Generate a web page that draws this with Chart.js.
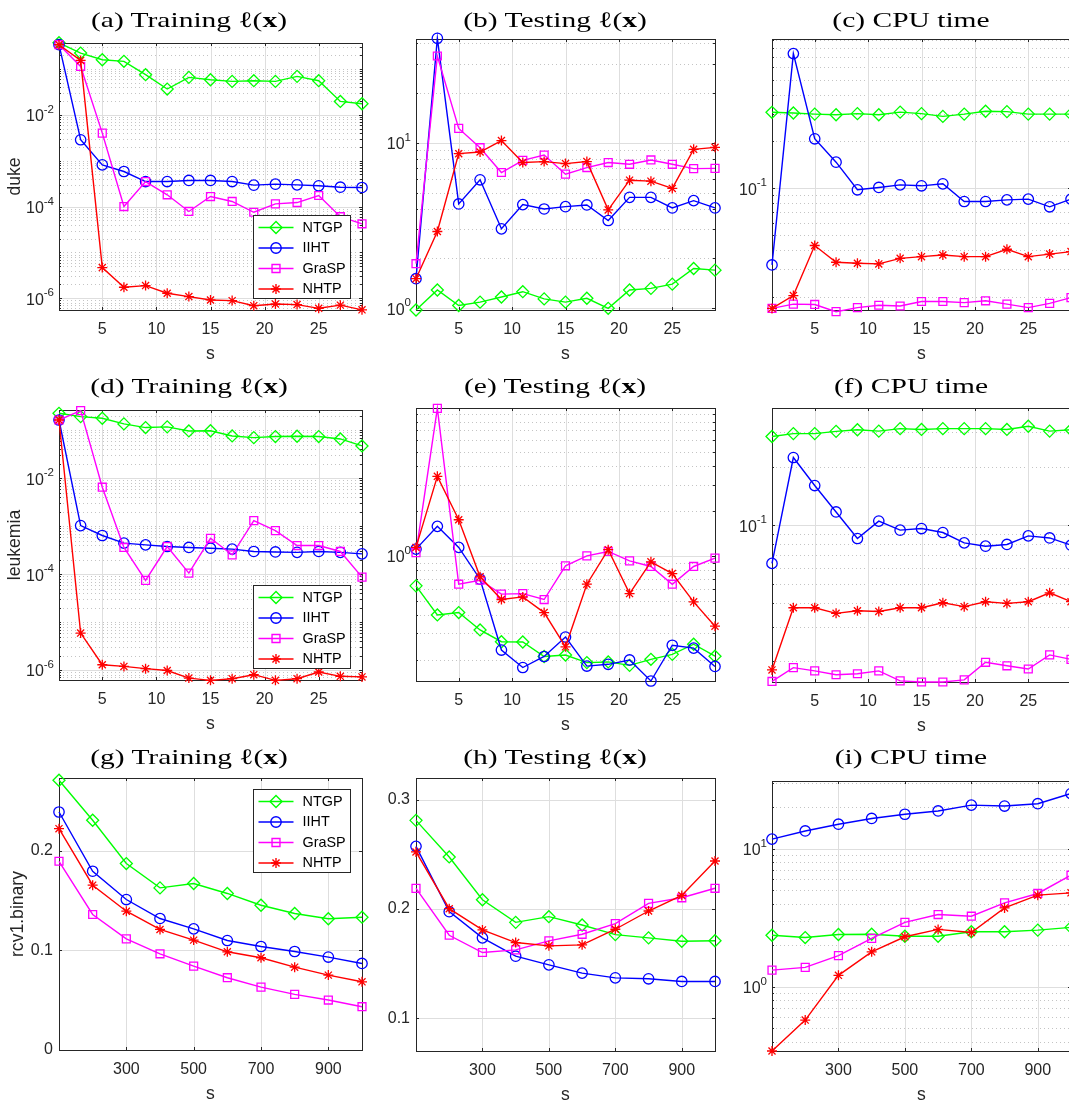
<!DOCTYPE html>
<html><head><meta charset="utf-8">
<script src="https://cdn.jsdelivr.net/npm/chart.js@4.4.1/dist/chart.umd.min.js"></script>
<style>
html,body{margin:0;padding:0;background:#fff;overflow:hidden;width:1069px;height:1103px;}
#wrap{position:relative;width:1069px;height:1103px;overflow:hidden;background:#fff;}
#wrap canvas{position:absolute;}
.ttl{position:absolute;font-family:"Liberation Serif","Times New Roman",serif;font-size:22px;color:#000;white-space:nowrap;line-height:26px;transform:translate(-50%,-50%);}
</style></head><body><div id="wrap"></div>
<script>
// ---------- data ----------
const S_SMALL = [1,3,5,7,9,11,13,15,17,19,21,23,25,27,29];
const S_LARGE = [100,200,300,400,500,600,700,800,900,1000];
const X_TICKS_SMALL = [5,10,15,20,25];
const X_TICKS_LARGE = [300,500,700,900];
const METHODS = ['NTGP','IIHT','GraSP','NHTP'];

// (a) duke, training loss
const dukeTrainNTGP  = [0.37,0.221,0.158,0.146,0.0747,0.0363,0.0653,0.058,0.0533,0.0552,0.0533,0.0686,0.0552,0.0195,0.0174];
const dukeTrainIIHT  = [0.336,0.00285,8.1e-4,5.8e-4,3.5e-4,3.5e-4,3.7e-4,3.7e-4,3.5e-4,2.92e-4,3.07e-4,2.97e-4,2.83e-4,2.64e-4,2.6e-4];
const dukeTrainGraSP = [0.336,0.113,0.00398,1.0e-4,3.5e-4,1.8e-4,7.8e-5,1.65e-4,1.29e-4,7.5e-5,1.14e-4,1.22e-4,1.74e-4,6.0e-5,4.2e-5];
const dukeTrainNHTP  = [0.336,0.153,4.67e-6,1.74e-6,1.89e-6,1.29e-6,1.09e-6,9.2e-7,8.9e-7,6.9e-7,7.5e-7,7.3e-7,6.05e-7,7.1e-7,5.6e-7];
// (b) duke, testing loss
const dukeTestNTGP  = [0.977,1.29,1.04,1.09,1.17,1.26,1.14,1.09,1.15,1.0,1.29,1.32,1.4,1.74,1.70];
const dukeTestIIHT  = [1.51,42.7,4.27,5.97,3.02,4.23,3.98,4.11,4.21,3.39,4.68,4.68,4.04,4.47,4.04];
const dukeTestGraSP = [1.86,33.4,12.2,9.33,6.61,7.83,8.43,6.46,7.08,7.59,7.41,7.87,7.41,6.98,7.0];
const dukeTestNHTP  = [1.51,2.91,8.59,8.79,10.3,7.59,7.69,7.48,7.69,3.93,5.94,5.86,5.3,9.12,9.38];
// (c) duke, CPU time
const dukeCpuNTGP  = [0.308,0.305,0.300,0.297,0.302,0.297,0.309,0.302,0.290,0.300,0.313,0.311,0.300,0.300,0.300];
const dukeCpuIIHT  = [0.032,0.736,0.208,0.147,0.0976,0.101,0.105,0.1035,0.1066,0.082,0.082,0.084,0.085,0.0758,0.085];
const dukeCpuGraSP = [0.0168,0.0179,0.0178,0.016,0.017,0.0176,0.0174,0.0186,0.0186,0.0183,0.0188,0.0179,0.017,0.0181,0.0197];
const dukeCpuNHTP  = [0.0168,0.0203,0.0427,0.0333,0.0328,0.0325,0.0353,0.0362,0.0371,0.0362,0.0362,0.0404,0.0362,0.0376,0.039];
// (d) leukemia, training loss
const leukTrainNTGP  = [0.226,0.193,0.178,0.136,0.114,0.118,0.0969,0.098,0.0762,0.0703,0.074,0.075,0.074,0.066,0.0472];
const leukTrainIIHT  = [0.164,1.03e-3,6.4e-4,4.43e-4,4.08e-4,3.77e-4,3.6e-4,3.48e-4,3.33e-4,2.97e-4,2.9e-4,2.85e-4,2.97e-4,2.85e-4,2.65e-4];
const leukTrainGraSP = [0.164,0.257,6.5e-3,3.6e-4,7.4e-5,3.77e-4,1.05e-4,5.6e-4,2.53e-4,1.31e-3,8.1e-4,3.95e-4,3.95e-4,2.97e-4,8.66e-5];
const leukTrainNHTP  = [0.164,5.9e-6,1.29e-6,1.19e-6,1.07e-6,9.8e-7,6.8e-7,6.1e-7,6.6e-7,8.0e-7,6.1e-7,6.6e-7,9.1e-7,7.4e-7,7.2e-7];
// (e) leukemia, testing loss
const leukTestNTGP  = [0.628,0.40,0.415,0.317,0.264,0.263,0.21,0.215,0.191,0.193,0.183,0.201,0.217,0.254,0.211];
const leukTestIIHT  = [1.11,1.58,1.14,0.696,0.232,0.177,0.21,0.284,0.181,0.186,0.199,0.1436,0.25,0.239,0.18];
const leukTestGraSP = [1.05,9.85,0.644,0.685,0.552,0.557,0.508,0.857,1.0,1.07,0.925,0.848,0.644,0.848,0.965];
const leukTestNHTP  = [1.14,3.43,1.75,0.722,0.508,0.529,0.415,0.244,0.644,1.10,0.557,0.911,0.76,0.49,0.336];
// (f) leukemia, CPU time
const leukCpuNTGP  = [0.286,0.296,0.296,0.304,0.31,0.305,0.314,0.311,0.314,0.314,0.314,0.311,0.323,0.305,0.31];
const leukCpuIIHT  = [0.0636,0.223,0.160,0.117,0.0854,0.105,0.0943,0.0961,0.0917,0.0811,0.078,0.0796,0.0881,0.086,0.0789];
const leukCpuGraSP = [0.0157,0.0185,0.0178,0.017,0.0172,0.0178,0.0158,0.0156,0.0156,0.016,0.0197,0.0189,0.0182,0.0215,0.0204];
const leukCpuNHTP  = [0.018,0.0376,0.0376,0.0352,0.0363,0.036,0.0376,0.0376,0.0399,0.0381,0.0404,0.0396,0.0404,0.0449,0.0404];
// (g) rcv1.binary, training loss
const rcvTrainNTGP  = [0.2705,0.2304,0.187,0.1626,0.167,0.157,0.1452,0.1369,0.1316,0.1332];
const rcvTrainIIHT  = [0.2387,0.1793,0.1509,0.1319,0.1215,0.1098,0.1038,0.0988,0.0932,0.0868];
const rcvTrainGraSP = [0.1893,0.1359,0.1115,0.0965,0.0841,0.0725,0.0631,0.0558,0.0501,0.0434];
const rcvTrainNHTP  = [0.222,0.1653,0.1392,0.1209,0.1102,0.0985,0.0925,0.0831,0.0751,0.0684];
// (h) rcv1.binary, testing loss
const rcvTestNTGP  = [0.2812,0.2477,0.2085,0.1878,0.193,0.1854,0.1766,0.1736,0.1705,0.171];
const rcvTestIIHT  = [0.2574,0.1976,0.1736,0.1568,0.1489,0.1413,0.137,0.1361,0.1337,0.1337];
const rcvTestGraSP = [0.2189,0.176,0.1602,0.1626,0.1708,0.1769,0.1866,0.2052,0.2103,0.219];
const rcvTestNHTP  = [0.2523,0.2003,0.1809,0.1693,0.1663,0.1672,0.1815,0.1982,0.2125,0.244];
// (i) rcv1.binary, CPU time
const rcvCpuNTGP  = [2.36,2.27,2.39,2.4,2.32,2.32,2.5,2.5,2.57,2.69];
const rcvCpuIIHT  = [11.7,13.4,15.0,16.5,17.7,18.7,20.6,20.3,21.1,25.0];
const rcvCpuGraSP = [1.32,1.38,1.68,2.24,2.92,3.33,3.24,4.05,4.73,6.41];
const rcvCpuNHTP  = [0.343,0.574,1.21,1.79,2.30,2.6,2.47,3.72,4.6,4.78];

// y tick labels (values)
const Y_TICKS_TRAIN_LOG = [1e-6,1e-4,1e-2];
const Y_TICKS_DUKE_TEST = [1,10];
const Y_TICKS_CPU_SMALL = [0.1];
const Y_TICKS_LEUK_TEST = [1];
const Y_TICKS_RCV_TRAIN = [0,0.1,0.2];
const Y_TICKS_RCV_TEST  = [0.1,0.2,0.3];
const Y_TICKS_RCV_CPU   = [1,10];

// ---------- styles / layout ----------
const STY = [
  {c:'#00ff00', p:'rectRot', r:6},
  {c:'#0000ff', p:'circle', r:5.2},
  {c:'#ff00ff', p:'rect', r:5.6},
  {c:'#ff0000', p:'star', r:5}
];
const FONT = '"Liberation Sans", Arial, Helvetica, sans-serif';
const AX = '#262626';
const COLS = [{l:59,r:362,tx:189},{l:416,r:715,tx:555},{l:772,r:1071,tx:911}];
const TITLE_Y = [20, 385.5, 757];

const panels = [
  {col:0,row:0,t:43,b:310,title:'(a) Training ℓ(<b>x</b>)',x:S_SMALL,xr:[1,29],xt:X_TICKS_SMALL,log:true,yr:[5.56e-7,0.366],yt:Y_TICKS_TRAIN_LOG,
   s:[dukeTrainNTGP,dukeTrainIIHT,dukeTrainGraSP,dukeTrainNHTP],ylab:'duke',ylabPad:4.4,legend:'br'},
  {col:1,row:0,t:39,b:310,title:'(b) Testing ℓ(<b>x</b>)',x:S_SMALL,xr:[1,29],xt:X_TICKS_SMALL,log:true,yr:[0.977,42.3],yt:Y_TICKS_DUKE_TEST,
   s:[dukeTestNTGP,dukeTestIIHT,dukeTestGraSP,dukeTestNHTP]},
  {col:2,row:0,t:39,b:310,title:'(c) CPU time',x:S_SMALL,xr:[1,29],xt:X_TICKS_SMALL,log:true,yr:[0.0164,0.914],yt:Y_TICKS_CPU_SMALL,
   s:[dukeCpuNTGP,dukeCpuIIHT,dukeCpuGraSP,dukeCpuNHTP]},
  {col:0,row:1,t:410,b:680,title:'(d) Training ℓ(<b>x</b>)',x:S_SMALL,xr:[1,29],xt:X_TICKS_SMALL,log:true,yr:[6.2e-7,0.265],yt:Y_TICKS_TRAIN_LOG,
   s:[leukTrainNTGP,leukTrainIIHT,leukTrainGraSP,leukTrainNHTP],ylab:'leukemia',ylabPad:4.4,legend:'br'},
  {col:1,row:1,t:408,b:681,title:'(e) Testing ℓ(<b>x</b>)',x:S_SMALL,xr:[1,29],xt:X_TICKS_SMALL,log:true,yr:[0.1436,9.9],yt:Y_TICKS_LEUK_TEST,
   s:[leukTestNTGP,leukTestIIHT,leukTestGraSP,leukTestNHTP]},
  {col:2,row:1,t:408,b:682,title:'(f) CPU time',x:S_SMALL,xr:[1,29],xt:X_TICKS_SMALL,log:true,yr:[0.0156,0.401],yt:Y_TICKS_CPU_SMALL,
   s:[leukCpuNTGP,leukCpuIIHT,leukCpuGraSP,leukCpuNHTP]},
  {col:0,row:2,t:778,b:1050,title:'(g) Training ℓ(<b>x</b>)',x:S_LARGE,xr:[100,1000],xt:X_TICKS_LARGE,log:false,yr:[0,0.2728],yt:Y_TICKS_RCV_TRAIN,
   s:[rcvTrainNTGP,rcvTrainIIHT,rcvTrainGraSP,rcvTrainNHTP],ylab:'rcv1.binary',ylabPad:7.4,legend:'tr'},
  {col:1,row:2,t:778,b:1051,title:'(h) Testing ℓ(<b>x</b>)',x:S_LARGE,xr:[100,1000],xt:X_TICKS_LARGE,log:false,yr:[0.07,0.32],yt:Y_TICKS_RCV_TEST,
   s:[rcvTestNTGP,rcvTestIIHT,rcvTestGraSP,rcvTestNHTP]},
  {col:2,row:2,t:781,b:1051,title:'(i) CPU time',x:S_LARGE,xr:[100,1000],xt:X_TICKS_LARGE,log:true,yr:[0.343,30.8],yt:Y_TICKS_RCV_CPU,
   s:[rcvCpuNTGP,rcvCpuIIHT,rcvCpuGraSP,rcvCpuNHTP]}
];

function fmtLin(v){ return String(Math.round(v*10)/10); }
function expOf(v){ return Math.round(Math.log10(v)); }

function drawMarker(ctx, style, x, y, r){
  ctx.beginPath();
  if (style==='rectRot'){ ctx.moveTo(x,y-r); ctx.lineTo(x+r,y); ctx.lineTo(x,y+r); ctx.lineTo(x-r,y); ctx.closePath(); }
  else if (style==='circle'){ ctx.arc(x,y,r,0,Math.PI*2); }
  else if (style==='rect'){ const s=r*Math.SQRT1_2; ctx.rect(x-s,y-s,2*s,2*s); }
  else if (style==='star'){ for (let k=0;k<4;k++){ const a=k*Math.PI/4; ctx.moveTo(x-r*Math.cos(a),y-r*Math.sin(a)); ctx.lineTo(x+r*Math.cos(a),y+r*Math.sin(a)); } }
  ctx.stroke();
}

const matlabPlugin = {
  id:'matlab',
  beforeDatasetsDraw(chart){
    const o = chart.options.plugins.matlab;
    const {ctx, chartArea:ca} = chart; const xs=chart.scales.x, ys=chart.scales.y;
    const L=Math.round(ca.left), R=Math.round(ca.right), T=Math.round(ca.top), B=Math.round(ca.bottom);
    ctx.save(); ctx.lineWidth=1;
    const minors=[];
    if (o.log){
      const lo=Math.floor(Math.log10(ys.min)), hi=Math.ceil(Math.log10(ys.max));
      for (let e=lo;e<=hi;e++) for (let k=1;k<=9;k++){
        const v=k*Math.pow(10,e);
        if (v>ys.min*1.0001 && v<ys.max*0.9999 && !o.yt.some(t=>Math.abs(t-v)/v<1e-6)) minors.push(v);
      }
      ctx.strokeStyle='#c4c4c4'; ctx.setLineDash([1,3]); ctx.beginPath();
      minors.forEach(v=>{const py=Math.round(ys.getPixelForValue(v))+0.5; ctx.moveTo(L,py); ctx.lineTo(R,py);});
      ctx.stroke(); ctx.setLineDash([]);
    }
    ctx.strokeStyle='#dedede'; ctx.beginPath();
    o.xt.forEach(v=>{const px=Math.round(xs.getPixelForValue(v))+0.5; ctx.moveTo(px,T); ctx.lineTo(px,B);});
    o.yt.forEach(v=>{const py=Math.round(ys.getPixelForValue(v))+0.5; if(py>T+1&&py<B-1){ctx.moveTo(L,py); ctx.lineTo(R,py);}});
    ctx.stroke();
    ctx.strokeStyle=AX; ctx.lineWidth=1;
    ctx.strokeRect(L+0.5,T+0.5,R-L,B-T);
    ctx.beginPath();
    o.xt.forEach(v=>{const px=Math.round(xs.getPixelForValue(v))+0.5; ctx.moveTo(px,B); ctx.lineTo(px,B-3); ctx.moveTo(px,T); ctx.lineTo(px,T+3);});
    o.yt.forEach(v=>{const py=Math.round(ys.getPixelForValue(v))+0.5; ctx.moveTo(L,py); ctx.lineTo(L+3,py); ctx.moveTo(R,py); ctx.lineTo(R-3,py);});
    minors.forEach(v=>{const py=Math.round(ys.getPixelForValue(v))+0.5; ctx.moveTo(L,py); ctx.lineTo(L+2,py); ctx.moveTo(R,py); ctx.lineTo(R-2,py);});
    ctx.stroke();
    // tick labels (positions from the chart's scales)
    ctx.fillStyle=AX; ctx.textBaseline='middle';
    ctx.font='16px '+FONT; ctx.textAlign='center';
    o.xt.forEach(v=>{ ctx.fillText(String(v), xs.getPixelForValue(v), B+19.5); });
    if (o.log){
      o.yt.forEach(v=>{
        const py=ys.getPixelForValue(v);
        const ex=String(expOf(v));
        ctx.font='11.5px '+FONT; const we=ctx.measureText(ex).width;
        ctx.font='16px '+FONT; const wb=ctx.measureText('10').width;
        const xr=L-5;
        ctx.textAlign='left';
        ctx.fillText('10', xr-we-wb, py+2);
        ctx.font='11.5px '+FONT;
        ctx.fillText(ex, xr-we, py-5);
      });
    } else {
      ctx.font='16px '+FONT; ctx.textAlign='right';
      o.yt.forEach(v=>{ ctx.fillText(fmtLin(v), L-6, ys.getPixelForValue(v)); });
    }
    ctx.restore();
  },
  afterDatasetsDraw(chart){
    const o = chart.options.plugins.matlab; if(!o.legend) return;
    const {ctx, chartArea:ca} = chart;
    const w=97, h=83;
    const bx=Math.round(ca.right-12-w)+0.5;
    const by=(o.legend==='br'?Math.round(ca.bottom-12-h):Math.round(ca.top+11))+0.5;
    ctx.save();
    ctx.fillStyle='#fff'; ctx.fillRect(bx,by,w,h);
    ctx.strokeStyle=AX; ctx.lineWidth=1; ctx.strokeRect(bx,by,w,h);
    chart.data.datasets.forEach((ds,i)=>{
      const cy=by+12+i*20.5;
      ctx.strokeStyle=ds.borderColor; ctx.lineWidth=1.4;
      ctx.beginPath(); ctx.moveTo(bx+5,cy); ctx.lineTo(bx+40,cy); ctx.stroke();
      drawMarker(ctx, ds.pointStyle, bx+22.5, cy, ds.pointRadius);
      ctx.fillStyle='#000'; ctx.font='14.4px '+FONT; ctx.textBaseline='middle'; ctx.textAlign='left';
      ctx.fillText(ds.label, bx+49, cy+0.5);
    });
    ctx.restore();
  }
};

const PADL=59, PADT=14, PADR=14, PADB=56;
const wrap=document.getElementById('wrap');

panels.forEach(p=>{
  const col=COLS[p.col];
  const W=col.r-col.l+PADL+PADR, H=p.b-p.t+PADT+PADB;
  const cv=document.createElement('canvas');
  cv.width=W; cv.height=H;
  cv.style.left=(col.l-PADL)+'px'; cv.style.top=(p.t-PADT)+'px';
  cv.style.width=W+'px'; cv.style.height=H+'px';
  wrap.appendChild(cv);

  const ttl=document.createElement('div');
  ttl.className='ttl'; ttl.innerHTML=p.title;
  ttl.style.left=col.tx+'px'; ttl.style.top=TITLE_Y[p.row]+'px';
  wrap.appendChild(ttl);

  new Chart(cv.getContext('2d'),{
    type:'line',
    data:{datasets:METHODS.map((m,i)=>({
      label:m,
      data:p.x.map((xv,j)=>({x:xv,y:p.s[i][j]})),
      borderColor:STY[i].c, backgroundColor:STY[i].c, borderWidth:1.4,
      pointStyle:STY[i].p, pointRadius:STY[i].r, pointHoverRadius:STY[i].r,
      pointBorderColor:STY[i].c, pointBackgroundColor:'rgba(0,0,0,0)', pointBorderWidth:1.3,
      tension:0, fill:false, order:3-i, clip:12
    }))},
    options:{
      responsive:false, animation:false, devicePixelRatio:1,
      layout:{padding:{left:0,top:PADT,right:PADR,bottom:0}},
      events:[],
      plugins:{legend:{display:false}, tooltip:{enabled:false},
        matlab:{log:p.log, xt:p.xt, yt:p.yt, legend:p.legend||null}},
      scales:{
        x:{type:'linear', bounds:'data', min:p.xr[0], max:p.xr[1],
          afterBuildTicks:s=>{s.ticks=p.xt.map(v=>({value:v}));},
          afterFit:s=>{s.height=PADB;},
          grid:{display:false}, border:{display:false},
          ticks:{display:false, autoSkip:false, maxRotation:0},
          title:{display:true, text:'s', color:AX, font:{family:FONT,size:17.6}, padding:{top:0,bottom:1.5}}
        },
        y:{type:p.log?'logarithmic':'linear', bounds:'data', min:p.yr[0], max:p.yr[1],
          afterBuildTicks:s=>{s.ticks=p.yt.map(v=>({value:v}));},
          afterFit:s=>{s.width=PADL;},
          grid:{display:false}, border:{display:false},
          ticks:{display:false, autoSkip:false},
          title:p.ylab?{display:true, text:p.ylab, color:AX, font:{family:FONT,size:17.6}, padding:{top:p.ylabPad,bottom:0}}:{display:false}
        }
      }
    },
    plugins:[matlabPlugin]
  });
});

// stretch serif titles horizontally to match reference extent
(function(){
  const t=document.querySelector('.ttl');
  const w=t.getBoundingClientRect().width;
  const k=196/w;
  document.querySelectorAll('.ttl').forEach(el=>{el.style.transform='translate(-50%,-50%) scaleX('+k.toFixed(3)+')';});
})();
</script>
</body></html>
